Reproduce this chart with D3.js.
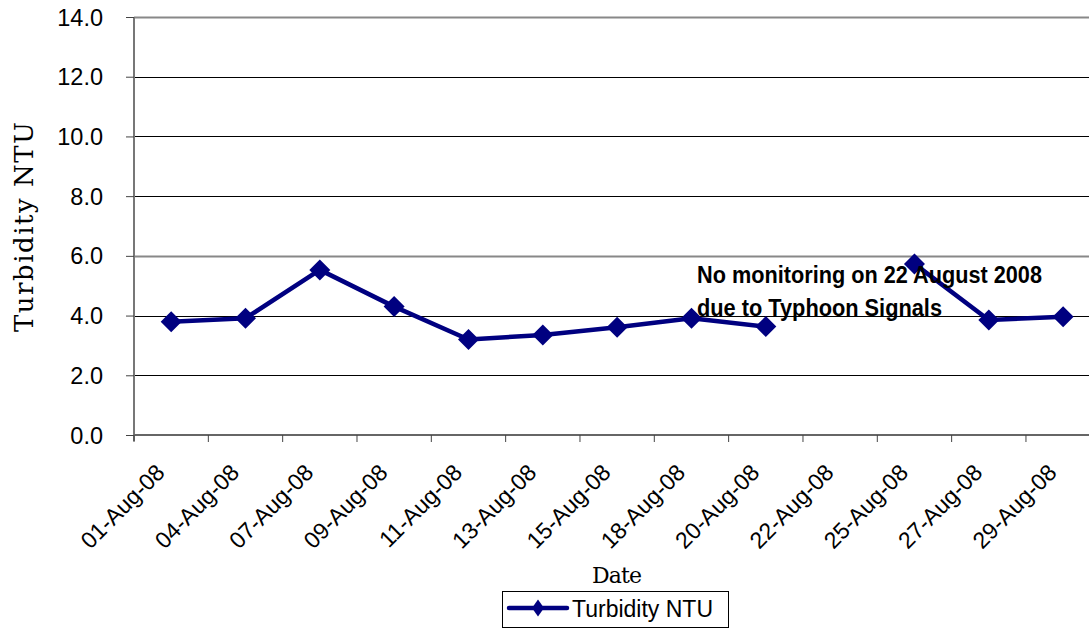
<!DOCTYPE html>
<html>
<head>
<meta charset="utf-8">
<script src="https://cdn.jsdelivr.net/npm/d3@7/dist/d3.min.js"></script>
<style>
  html, body { margin: 0; padding: 0; background: #fff; }
  svg { display: block; }
</style>
</head>
<body>
<svg id="chart" width="1089" height="629"></svg>
<script>
const categories = ["01-Aug-08","04-Aug-08","07-Aug-08","09-Aug-08","11-Aug-08","13-Aug-08","15-Aug-08","18-Aug-08","20-Aug-08","22-Aug-08","25-Aug-08","27-Aug-08","29-Aug-08"];
const turbidity = [3.79, 3.91, 5.53, 4.30, 3.20, 3.35, 3.61, 3.91, 3.63, null, 5.73, 3.85, 3.96];
const yTicks = [0, 2, 4, 6, 8, 10, 12, 14];
const seriesName = "Turbidity NTU";
const yTitle = "Turbidity NTU";
const xTitle = "Date";
const noteLines = ["No monitoring on 22 August 2008", "due to Typhoon Signals"];

(function () {
const svg = d3.select("#chart");
const pLeft = 134, pTop = 17, pBottom = 435;
const bandW = 74.33;
const x = d3.scaleBand().domain(categories).range([pLeft, pLeft + bandW * categories.length]).paddingInner(0).paddingOuter(0);
const y = d3.scaleLinear().domain([0, 14]).range([pBottom, pTop]);

// gridlines
svg.append("g").selectAll("line").data(yTicks.filter(d => d > 0)).join("line")
  .attr("x1", pLeft).attr("x2", 1089)
  .attr("y1", d => Math.round(y(d)) + 0.5).attr("y2", d => Math.round(y(d)) + 0.5)
  .attr("stroke", d => (d === 14 || d === 6) ? "#888" : "#000")
  .attr("stroke-width", d => (d === 14 || d === 6) ? 2 : 1);

// y axis
const yAxis = d3.axisLeft(y).tickValues(yTicks).tickFormat(d3.format(".1f")).tickSize(8).tickPadding(23);
const gy = svg.append("g").attr("transform", `translate(${pLeft},0)`).call(yAxis);
gy.select(".domain").attr("stroke", "#777").attr("stroke-width", 2).attr("d", `M0,${pTop}V${pBottom + 6}`);
gy.selectAll(".tick line").attr("stroke", "#444");
gy.selectAll(".tick text").attr("font-family", "Liberation Sans, Arial, sans-serif").attr("font-size", 23.5).attr("fill", "#000").attr("dy", "0.34em");

// x axis
const boundaries = categories.map(c => x(c));
const gx = svg.append("g");
gx.append("line").attr("x1", pLeft).attr("x2", 1089).attr("y1", pBottom).attr("y2", pBottom).attr("stroke", "#666").attr("stroke-width", 2);
gx.selectAll("line.tk").data(boundaries).join("line").attr("class", "tk")
  .attr("x1", d => d).attr("x2", d => d).attr("y1", pBottom).attr("y2", pBottom + 7)
  .attr("stroke", "#444").attr("stroke-width", 1);
gx.selectAll("text").data(categories).join("text")
  .attr("transform", d => `translate(${x(d) + x.bandwidth() / 2 - 5},${pBottom + 39}) rotate(-45)`)
  .attr("text-anchor", "end")
  .attr("font-family", "Liberation Sans, Arial, sans-serif").attr("font-size", 23).attr("fill", "#000")
  .text(d => d);

// line
const line = d3.line().defined(d => d.v !== null)
  .x(d => x(d.c) + x.bandwidth() / 2).y(d => y(d.v));
const pts = categories.map((c, i) => ({ c, v: turbidity[i] }));
svg.append("path").datum(pts).attr("d", line).attr("fill", "none")
  .attr("stroke", "#000080").attr("stroke-width", 4.5).attr("stroke-linejoin", "round");
const diamond = (cx, cy, w, h) => `M${cx},${cy - h}L${cx + w},${cy}L${cx},${cy + h}L${cx - w},${cy}Z`;
svg.append("g").selectAll("path").data(pts.filter(d => d.v !== null)).join("path")
  .attr("d", d => diamond(x(d.c) + x.bandwidth() / 2, y(d.v), 10.5, 10.5))
  .attr("fill", "#000080");

// annotation
const noteLen = [345, 245];
const note = svg.append("text").attr("font-family", "Liberation Sans, Arial, sans-serif")
  .attr("font-weight", "bold").attr("font-size", 23).attr("fill", "#000");
note.selectAll("tspan").data(noteLines).join("tspan")
  .attr("x", 697).attr("y", (d, i) => 283 + i * 33)
  .attr("textLength", (d, i) => noteLen[i]).attr("lengthAdjust", "spacingAndGlyphs")
  .text(d => d);

// axis titles
svg.append("text").attr("transform", "translate(33,227) rotate(-90)")
  .attr("text-anchor", "middle").attr("font-family", "DejaVu Serif, serif").attr("font-size", 26)
  .attr("textLength", 210).attr("lengthAdjust", "spacing").attr("fill", "#000").text(yTitle);
svg.append("text").attr("x", 617).attr("y", 583)
  .attr("text-anchor", "middle").attr("font-family", "DejaVu Serif, serif").attr("font-size", 22)
  .attr("textLength", 50).attr("lengthAdjust", "spacing").attr("fill", "#000").text(xTitle);

// legend
const lg = svg.append("g");
lg.append("rect").attr("x", 502.5).attr("y", 591.5).attr("width", 226).attr("height", 36)
  .attr("fill", "#fff").attr("stroke", "#000").attr("stroke-width", 1);
lg.append("line").attr("x1", 509).attr("x2", 567).attr("y1", 608).attr("y2", 608)
  .attr("stroke", "#000080").attr("stroke-width", 4.5).attr("stroke-linecap", "round");
lg.append("path").attr("d", diamond(538, 608, 6, 8.5)).attr("fill", "#000080");
lg.append("text").attr("x", 572).attr("y", 617).attr("font-family", "Liberation Sans, Arial, sans-serif")
  .attr("font-size", 23).attr("fill", "#000").text(seriesName);
})();
</script>
</body>
</html>
